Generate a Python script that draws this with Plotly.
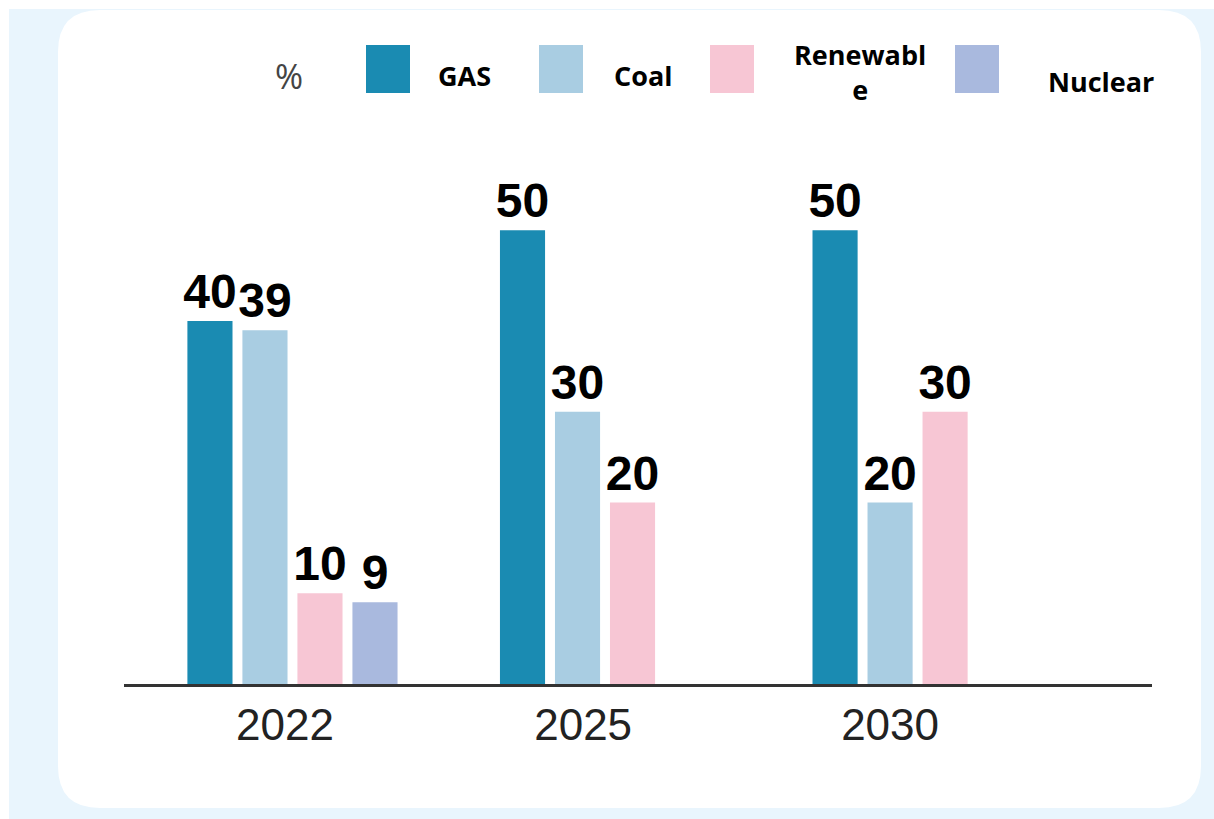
import plotly.graph_objects as go

years = ["2022", "2025", "2030"]
series_names = ["GAS", "Coal", "Renewable", "Nuclear"]
gas = [40, 50, 50]
coal = [39, 30, 20]
renewable = [10, 20, 30]
nuclear = [9, None, None]
colors = ["#1a8bb2", "#a9cde2", "#f7c6d4", "#a9b9de"]

values = [gas, coal, renewable, nuclear]

W, H = 1214, 819
L, R, T, B = 124, 1152, 185, 684  # plot area in pixels


def px(x):
    return (x - L) / (R - L)


def py(y):
    return (B - y) / (B - T)


fig = go.Figure()
xpos = list(range(len(years)))
for name, vals, col in zip(series_names, values, colors):
    fig.add_trace(go.Bar(
        x=xpos, y=vals, name=name, marker_color=col, marker_line_width=0,
        texttemplate="%{y}", textposition="outside", constraintext="none",
        textfont=dict(family="Liberation Sans", size=48, color="#000000", weight="bold"),
        cliponaxis=False, showlegend=False,
    ))

shapes = []
# outer light-blue background
shapes.append(dict(type="rect", xref="paper", yref="paper",
                   x0=px(9), x1=px(W + 5), y0=py(9), y1=py(H + 5),
                   fillcolor="#e9f5fd", line_width=0, layer="below"))
# white rounded card
cx0, cx1, cy0, cy1, r = 58, 1201, 10, 808, 42
rx = r / (R - L)
ry = r / (B - T)
x0, x1, y0, y1 = px(cx0), px(cx1), py(cy1), py(cy0)
path = (f"M {x0+rx},{y0} L {x1-rx},{y0} Q {x1},{y0} {x1},{y0+ry} "
        f"L {x1},{y1-ry} Q {x1},{y1} {x1-rx},{y1} L {x0+rx},{y1} "
        f"Q {x0},{y1} {x0},{y1-ry} L {x0},{y0+ry} Q {x0},{y0} {x0+rx},{y0} Z")
shapes.append(dict(type="path", xref="paper", yref="paper", path=path,
                   fillcolor="#ffffff", line_width=0, layer="below"))

# legend swatches
swatch_x = [366, 539, 710, 955]
for sx, col in zip(swatch_x, colors):
    shapes.append(dict(type="rect", xref="paper", yref="paper",
                       x0=px(sx), x1=px(sx + 44), y0=py(93), y1=py(45),
                       fillcolor=col, line_width=0))

annotations = []
lab_font = dict(family="Open Sans", size=27, color="#000000", weight="bold")
annotations.append(dict(text="%", x=px(289), y=py(76), xref="paper", yref="paper",
                        xanchor="center", yanchor="middle",
                        showarrow=False, font=dict(family="Open Sans", size=34, color="#444444")))
label_pos = [(464, 75), (643, 75), (860, 72), (1101, 81)]
label_text = ["GAS", "Coal", "Renewabl<br>e", "Nuclear"]
for (lx, ly), t in zip(label_pos, label_text):
    annotations.append(dict(text=t, x=px(lx), y=py(ly), xref="paper", yref="paper",
                            xanchor="center", yanchor="middle",
                            showarrow=False, font=lab_font, align="center"))

tick_shift = [-0.024, -0.07, -0.088]

fig.update_layout(
    width=W, height=H,
    margin=dict(l=L, r=W - R, t=T, b=H - B, pad=0),
    paper_bgcolor="#ffffff", plot_bgcolor="rgba(0,0,0,0)",
    barmode="group", bargap=0.296, bargroupgap=0.18,
    shapes=shapes, annotations=annotations,
    xaxis=dict(range=[-0.539, 2.75], tickvals=[i + s for i, s in zip(xpos, tick_shift)],
               ticktext=years, showline=True, linecolor="#333333", linewidth=3,
               ticks="", showgrid=False, zeroline=False,
               tickfont=dict(family="Liberation Sans", size=44, color="#222222")),
    yaxis=dict(range=[0, 55], visible=False, showgrid=False),
)

fig.write_html("out.html")
